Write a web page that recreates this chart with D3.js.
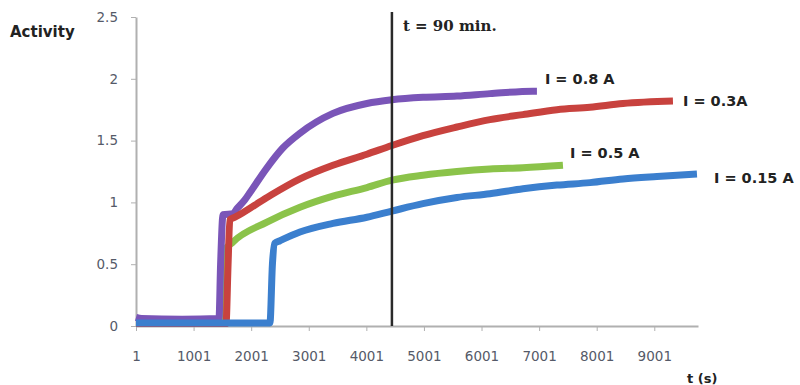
<!DOCTYPE html>
<html>
<head>
<meta charset="utf-8">
<script src="https://cdn.jsdelivr.net/npm/d3@7"></script>
<style>
  body { margin: 0; background: #fff; }
  svg { display: block; }
  .tick text { font-family: "DejaVu Sans", sans-serif; font-size: 13.5px; fill: #555a68; }
</style>
</head>
<body>
<script>
// tick labels of the category axis (sample index, seconds)
var xTicks = [1, 1001, 2001, 3001, 4001, 5001, 6001, 7001, 8001, 9001];
var yTicks = [0, 0.5, 1, 1.5, 2, 2.5];

var seriesNames = ['I = 0.5 A', 'I = 0.8 A', 'I = 0.3A', 'I = 0.15 A'];
var seriesColors = ['#8bc34a', '#7a55b8', '#c8423e', '#3b7fce'];

// [t, activity]
var green = [
  [1, 0.03], [800, 0.025], [1477, 0.03], [1529, 0.6], [1685, 0.68], [2275, 0.84],
  [2848, 0.96], [3421, 1.05], [4011, 1.12], [4445, 1.18], [4983, 1.22],
  [5574, 1.25], [6147, 1.27], [6720, 1.28], [7415, 1.30]
];
var purple = [
  [1, 0.07], [100, 0.06], [800, 0.055], [1442, 0.06], [1470, 0.5], [1512, 0.9], [1685, 0.91],
  [1755, 0.95], [1890, 1.02], [1980, 1.08], [2275, 1.28], [2550, 1.44], [2848, 1.56],
  [3421, 1.72], [4011, 1.80], [4445, 1.83], [4983, 1.85], [5574, 1.86], [6147, 1.88],
  [6893, 1.90], [6963, 1.90]
];
var red = [
  [1, 0.02], [1564, 0.02], [1600, 0.5], [1630, 0.86], [1720, 0.88], [2275, 1.04],
  [2848, 1.19], [3421, 1.30], [4011, 1.39], [4445, 1.46], [4983, 1.54],
  [5574, 1.61], [6147, 1.67], [6720, 1.71], [7311, 1.75], [7884, 1.77],
  [8457, 1.80], [9325, 1.82]
];
var blue = [
  [1, 0.025], [2327, 0.025], [2370, 0.5], [2410, 0.67], [2501, 0.69],
  [2848, 0.76], [3421, 0.83], [4011, 0.88], [4445, 0.93], [4983, 0.99],
  [5574, 1.04], [6147, 1.07], [6720, 1.11], [7311, 1.14], [7884, 1.16],
  [8457, 1.19], [9047, 1.21], [9742, 1.23]
];
var seriesData = [green, purple, red, blue];

// label offsets from each series' last point (px)
var labelOffsets = [[7, -12], [8, -12], [10, 0], [17, 4]];

var markerT = 4445;
var markerText = 't = 90 min.';

var width = 800, height = 385;

var svg = d3.select('body').append('svg')
    .attr('width', width)
    .attr('height', height);

var x = d3.scaleLinear().domain([1, 9760]).range([136, 698]);
var y = d3.scaleLinear().domain([0, 2.5]).range([326, 17]);

var xAxis = svg.append('g')
    .attr('transform', 'translate(0,' + y(0) + ')')
    .call(d3.axisBottom(x).tickValues(xTicks).tickSize(5).tickSizeOuter(0)
      .tickFormat(d3.format('d')));
xAxis.select('.domain').attr('stroke', '#b0b0b0').attr('stroke-width', 2);
xAxis.selectAll('.tick line').attr('stroke', '#b0b0b0');
xAxis.selectAll('.tick text').attr('dy', '2em');

var yAxis = svg.append('g')
    .attr('transform', 'translate(' + x(1) + ',0)')
    .call(d3.axisLeft(y).tickValues(yTicks).tickSize(5).tickSizeOuter(0)
      .tickFormat(function (d) { return d; }));
yAxis.select('.domain').attr('stroke', '#b0b0b0').attr('stroke-width', 2);
yAxis.selectAll('.tick line').attr('stroke', '#b0b0b0');
yAxis.selectAll('.tick text').attr('x', -18);

var line = d3.line()
    .x(function (d) { return x(d[0]); })
    .y(function (d) { return y(d[1]); })
    .curve(d3.curveMonotoneX);

seriesData.forEach(function (s, i) {
  svg.append('path')
      .datum(s)
      .attr('d', line)
      .attr('fill', 'none')
      .attr('stroke', seriesColors[i])
      .attr('stroke-width', 7)
      .attr('stroke-linejoin', 'round');

  var last = s[s.length - 1];
  svg.append('text')
      .attr('x', x(last[0]) + labelOffsets[i][0])
      .attr('y', y(last[1]) + labelOffsets[i][1])
      .attr('dy', '0.35em')
      .style('font-family', '"DejaVu Sans", sans-serif')
      .style('font-weight', 'bold')
      .style('font-size', '14.5px')
      .style('fill', '#222')
      .text(seriesNames[i]);
});

// 90 minute marker
svg.append('line')
    .attr('x1', x(markerT)).attr('x2', x(markerT))
    .attr('y1', 12).attr('y2', y(0))
    .attr('stroke', '#2a2a2a')
    .attr('stroke-width', 2.5);

svg.append('text')
    .attr('x', x(markerT) + 11)
    .attr('y', 31)
    .style('font-family', '"DejaVu Serif", serif')
    .style('font-weight', 'bold')
    .style('font-size', '15px')
    .style('fill', '#222')
    .text(markerText);

svg.append('text')
    .attr('x', 10)
    .attr('y', 37)
    .style('font-family', '"DejaVu Sans", sans-serif')
    .style('font-weight', 'bold')
    .style('font-size', '15px')
    .style('fill', '#222')
    .text('Activity');

svg.append('text')
    .attr('x', 687)
    .attr('y', 383)
    .style('font-family', '"DejaVu Sans", sans-serif')
    .style('font-weight', 'bold')
    .style('font-size', '13px')
    .style('fill', '#222')
    .text('t (s)');
</script>
</body>
</html>
